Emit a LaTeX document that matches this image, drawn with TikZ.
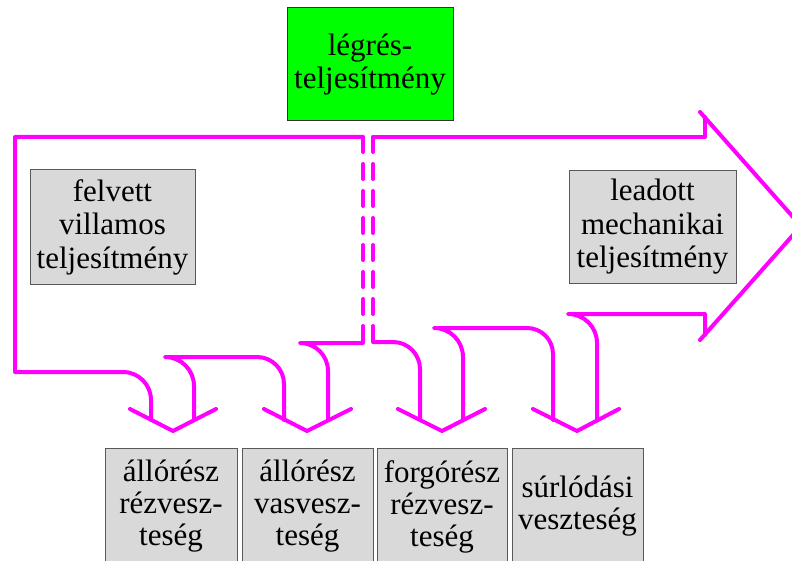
\documentclass[tikz,border=0pt]{standalone}
\usepackage{fontspec}
\setmainfont{Liberation Serif}
\definecolor{flowc}{HTML}{FF00FF}
\definecolor{boxgray}{HTML}{D9D9D9}
\definecolor{boxgreen}{HTML}{00FF00}
\begin{document}
\begin{tikzpicture}[x=1pt,y=1pt,
  flow/.style={draw=flowc, line width=4pt, line join=round, line cap=round},
  dflow/.style={flow, dash pattern=on 15pt off 12pt},
  lbl/.style={draw=black!65, line width=1pt, fill=boxgray, inner sep=0pt, align=center, font=\fontsize{31}{33.5}\selectfont},
  lowlbl/.style={lbl, minimum height=117pt, font=\fontsize{31}{32}\selectfont},
]
\clip (0,0) rectangle (792,-561);
% labels
\node[lbl, fill=boxgreen, draw=black!80, minimum width=166pt, minimum height=113pt] (lr) at (370,-64.5) {légrés-\\teljesítmény};
\node[lbl, minimum width=165pt, minimum height=114pt] (fv) at (112.5,-227) {felvett\\villamos\\teljesítmény};
\node[lbl, minimum width=167pt, minimum height=112pt] (ld) at (652.5,-227) {leadott\\mechanikai\\teljesítmény};
\node[lowlbl, minimum width=132pt] (b1) at (171,-506.5) {állórész\\rézvesz-\\teség};
\node[lowlbl, minimum width=131pt] (b2) at (307.5,-506.5) {állórész\\vasvesz-\\teség};
\node[lowlbl, minimum width=130pt] (b3) at (442,-506.5) {forgórész\\rézvesz-\\teség};
\node[lowlbl, minimum width=131pt] (b4) at (577.5,-506.5) {súrlódási\\veszteség};
% flow outline
\draw[flow] (363,-137) -- (15,-137) -- (15,-372) -- (123,-372) arc[start angle=90,end angle=0,radius=28] -- (151,-420);
\draw[flow] (194,-420) -- (194,-386) arc[start angle=0,end angle=90,radius=29] -- (257,-357) arc[start angle=90,end angle=0,radius=27] -- (284,-420);
\draw[flow] (328,-420) -- (328,-371) arc[start angle=0,end angle=90,radius=28] -- (363,-343);
\draw[dflow] (363,-137) -- (363,-343);
\draw[dflow] (373,-137) -- (373,-342);
\draw[flow] (373,-342) -- (393,-342) arc[start angle=90,end angle=0,radius=27] -- (420,-420);
\draw[flow] (463,-420) -- (463,-357) arc[start angle=0,end angle=90,radius=29] -- (527,-328) arc[start angle=90,end angle=0,radius=26] -- (553,-420);
\draw[flow] (597,-420) -- (597,-343) arc[start angle=0,end angle=90,radius=29] -- (705,-314) -- (705,-335);
\draw[flow] (373,-137) -- (705,-137) -- (705,-117);
\draw[flow] (700,-112) -- (801,-226) -- (700,-340);
% arrow heads
\draw[flow] (130,-409) -- (173,-431) -- (216,-409);
\draw[flow] (264,-409) -- (307,-431) -- (351,-409);
\draw[flow] (398,-409) -- (442,-431) -- (485,-409);
\draw[flow] (533,-409) -- (577,-431) -- (619,-409);
\end{tikzpicture}
\end{document}
